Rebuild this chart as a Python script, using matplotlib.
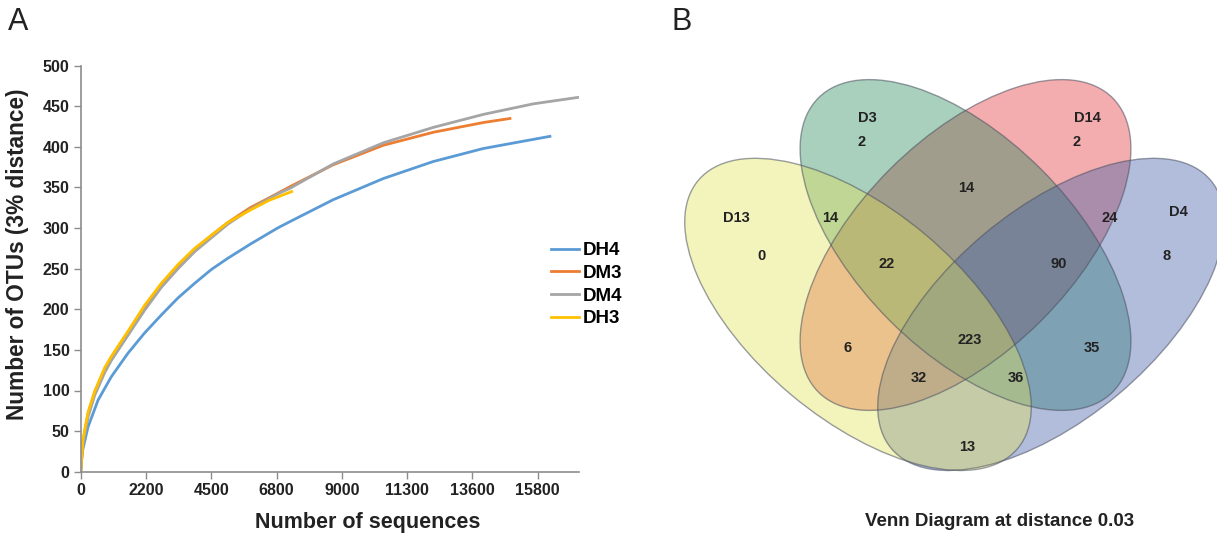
import matplotlib.pyplot as plt
from matplotlib.patches import Ellipse

plt.rcParams['font.family'] = ['Liberation Sans', 'DejaVu Sans']

# ---- panel A : rarefaction curves ----
dh4_x = [0, 45, 252, 598, 1059, 1635, 2212, 2787, 3363, 3939, 4515, 5091, 5851, 6800, 7233, 8730, 10458, 12186, 13914, 16219]
dh4_y = [0, 23, 55, 88, 117, 146, 171, 193, 214, 232, 249, 263, 280, 300, 308, 335, 361, 382, 398, 413]

dm3_x = [0, 80, 252, 483, 829, 1059, 1635, 2212, 2787, 3363, 3939, 4515, 5091, 5851, 6500, 7233, 8730, 10458, 12186, 13914, 14837]
dm3_y = [0, 38, 71, 98, 126, 141, 172, 203, 231, 254, 274, 291, 307, 325, 337, 351, 378, 402, 418, 430, 435]

dm4_x = [0, 80, 252, 483, 829, 1059, 1635, 2212, 2787, 3363, 3939, 4515, 5091, 5851, 6800, 7233, 8730, 10458, 12186, 13914, 15642, 17197]
dm4_y = [0, 35, 67, 94, 122, 137, 168, 199, 227, 250, 271, 288, 305, 323, 342, 349, 379, 405, 424, 440, 453, 461]

dh3_x = [0, 80, 252, 483, 829, 1059, 1635, 2212, 2787, 3363, 3939, 4515, 5091, 5851, 6500, 7292]
dh3_y = [0, 40, 73, 99, 128, 142, 173, 205, 232, 255, 275, 291, 307, 322, 334, 345]

series_names = ['DH4', 'DM3', 'DM4', 'DH3']
series_colors = ['#5B9BD5', '#ED7D31', '#A5A5A5', '#FFC000']

xtick_labels = ['0', '2200', '4500', '6800', '9000', '11300', '13600', '15800']
tick_step = 2257.
ytick_vals = list(range(0, 501, 50))

# ---- panel B : Venn counts ----
set_names = ['D13', 'D3', 'D14', 'D4']
set_fill = ['#E1E158', '#28875A', '#E33239', '#3E5CA7']
region_counts = [0, 2, 2, 8, 14, 14, 24, 22, 90, 6, 223, 35, 32, 36, 13]

# layout of the 4-ellipse diagram, in figure pixels (y down)
ell_geom = {'D13': (858, 314.4, 417, 209, 40),
            'D3': (965.5, 245, 416, 214, 45),
            'D14': (965.5, 245, 416, 214, -45),
            'D4': (1051, 314.4, 417, 209, -40)}
name_pos = [(736, 218), (867, 118), (1087, 118), (1178, 212)]
region_pos = [(761, 256), (862, 142), (1077, 142), (1167, 256),
              (830, 218), (966, 188), (1110, 218), (887, 264), (1059, 264),
              (848, 348), (970, 340), (1092, 348), (919, 378), (1016, 378), (967, 447)]

W, H = 1217, 535
fig = plt.figure(figsize=(W/100., H/100.), dpi=100)

spine_c = '#8C8C8C'
ax = fig.add_axes([80.7/W, 63.3/H, 497.9/W, 406/H])
all_x = [dh4_x, dm3_x, dm4_x, dh3_x]
all_y = [dh4_y, dm3_y, dm4_y, dh3_y]
for xs, ys, nm, c in zip(all_x, all_y, series_names, series_colors):
    ax.plot(xs, ys, color=c, lw=2.0, label=nm)
ax.set_xlim(0, 17210)
ax.set_ylim(0, 500)
ax.set_xticks([i*tick_step for i in range(len(xtick_labels))])
ax.set_xticklabels(xtick_labels)
ax.set_yticks(ytick_vals)
for s in ['top', 'right']:
    ax.spines[s].set_visible(False)
for s in ['left', 'bottom']:
    ax.spines[s].set_color(spine_c)
    ax.spines[s].set_linewidth(1.2)
ax.tick_params(axis='both', direction='out', length=5, width=1, color=spine_c,
               labelsize=11.5, labelcolor='#222222', pad=3)
for lab in ax.get_xticklabels() + ax.get_yticklabels():
    lab.set_fontweight('bold')
ax.set_xlabel('Number of sequences', fontsize=15.5, fontweight='bold', color='#222222')
ax.set_ylabel('Number of OTUs (3% distance)', fontsize=16.3, fontweight='bold', color='#222222')
ax.xaxis.set_label_coords(0.576, -0.124)
ax.xaxis.label.set_va('center')
ax.yaxis.set_label_coords(-0.126, 0.536)
ax.yaxis.label.set_va('center')

fig.legend(loc='upper left', bbox_to_anchor=(551/W, 1-242/H), frameon=False,
           handlelength=1.5, handletextpad=0.2, labelspacing=0.3,
           borderpad=0, borderaxespad=0,
           prop={'weight': 'bold', 'size': 13.5})

fig.text(8/W, 1-22/H, 'A', fontsize=22, va='center', ha='left', color='#222222')

# ---- panel B ----
vx = fig.add_axes([640/W, 0, (W-640)/W, 1])
vx.set_xlim(640, W)
vx.set_ylim(H, 0)
vx.axis('off')
draw_order = ['D14', 'D3', 'D4', 'D13']
for nm in draw_order:
    cx, cy, w, h, ang = ell_geom[nm]
    fc = set_fill[set_names.index(nm)]
    vx.add_patch(Ellipse((cx, cy), w, h, angle=ang, facecolor=fc, alpha=0.4, edgecolor='none'))
for nm in draw_order:
    cx, cy, w, h, ang = ell_geom[nm]
    vx.add_patch(Ellipse((cx, cy), w, h, angle=ang, facecolor='none',
                         edgecolor='#4A5060', alpha=0.55, lw=1.0))
for nm, (px, py) in zip(set_names, name_pos):
    vx.text(px, py, nm, ha='center', va='center', fontsize=10.5, fontweight='bold', color='#222222')
for cnt, (px, py) in zip(region_counts, region_pos):
    vx.text(px, py, str(cnt), ha='center', va='center', fontsize=10.5, fontweight='bold', color='#222222')
vx.text(1000, 521, 'Venn Diagram at distance 0.03', ha='center', va='center',
        fontsize=13.5, fontweight='bold', color='#222222')
fig.text(672/W, 1-22/H, 'B', fontsize=22, va='center', ha='left', color='#222222')

fig.savefig('out.png', dpi=100)
